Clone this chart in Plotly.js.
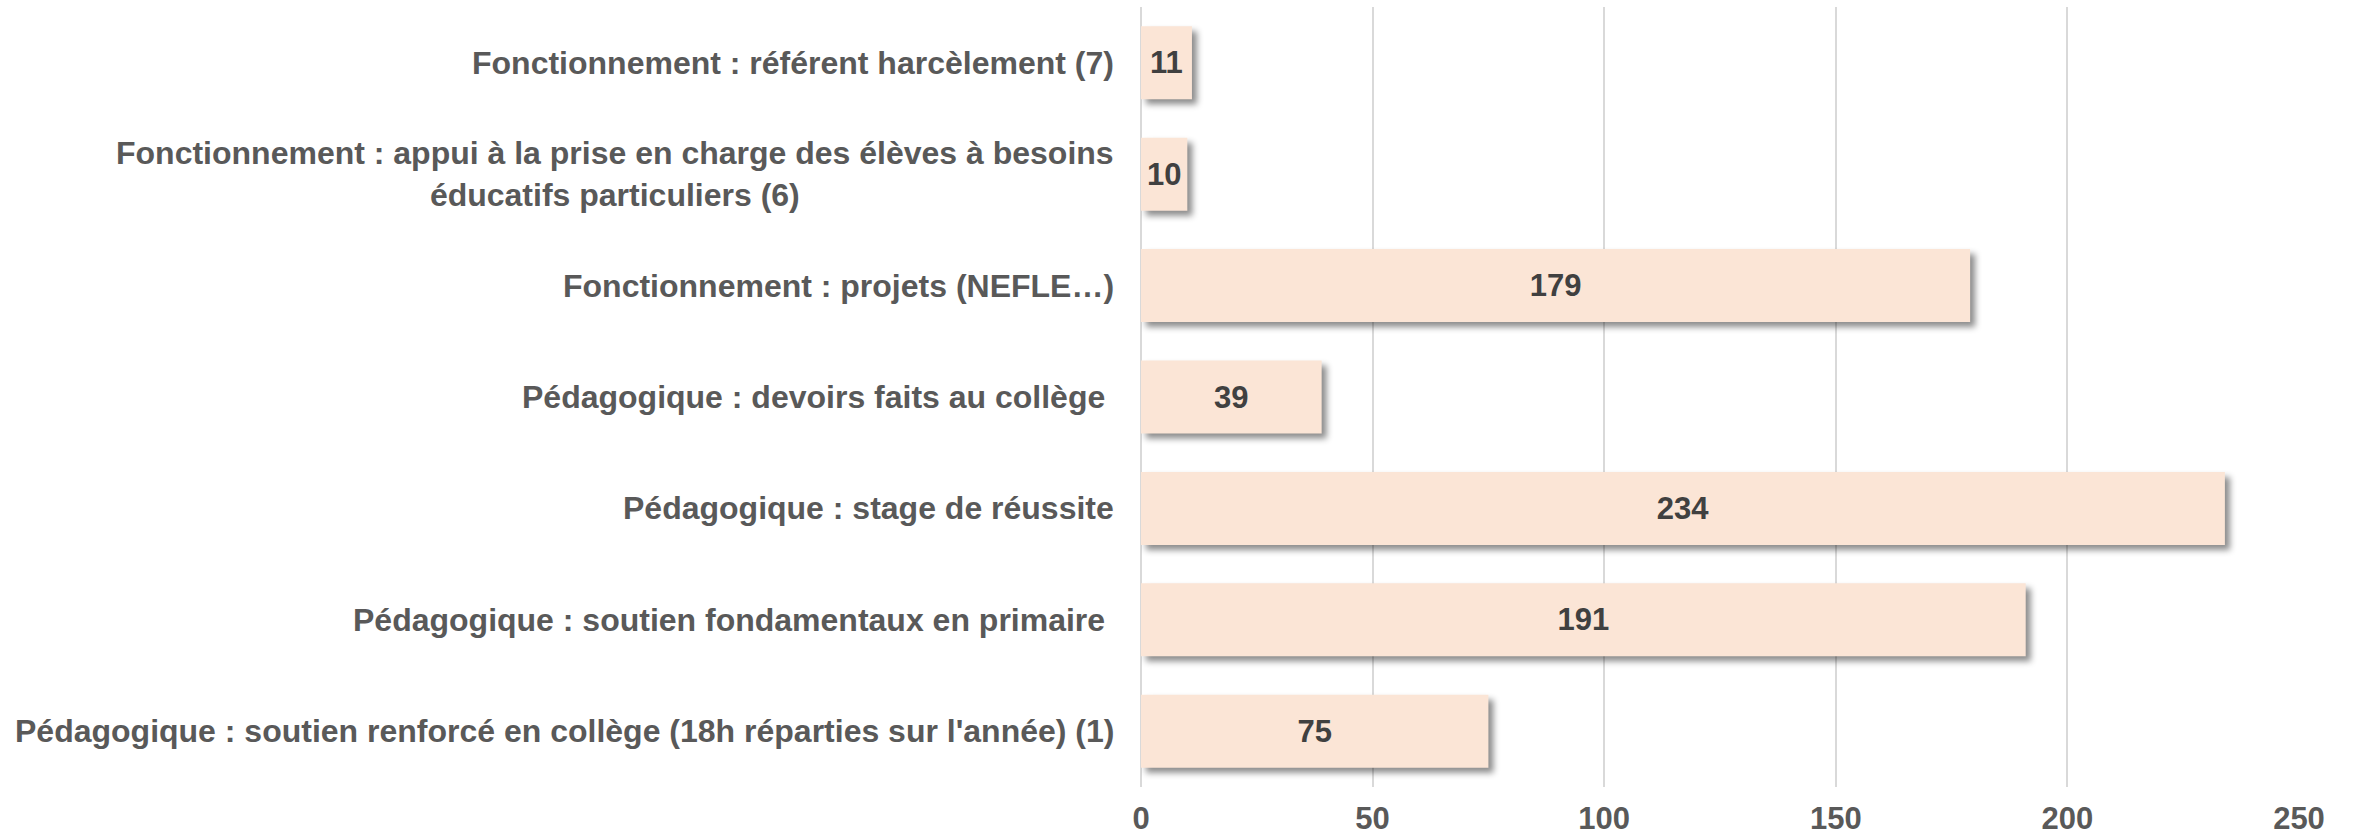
<!DOCTYPE html>
<html>
<head>
<meta charset="utf-8">
<script src="https://cdn.plot.ly/plotly-3.0.1.min.js"></script>
<style>
  html, body { margin: 0; padding: 0; background: #ffffff; }
  #chart { width: 2356px; height: 840px; }
  .barlayer .point path { filter: drop-shadow(5px 5px 3px rgba(0,0,0,0.45)); }
</style>
</head>
<body>
<div id="chart"></div>
<script>
// Categories, top to bottom
var categories = [
  "Fonctionnement : référent harcèlement (7)",
  "Fonctionnement : appui à la prise en charge des élèves à besoins<br>éducatifs particuliers (6)",
  "Fonctionnement : projets (NEFLE…)",
  "Pédagogique : devoirs faits au collège ",
  "Pédagogique : stage de réussite",
  "Pédagogique : soutien fondamentaux en primaire ",
  "Pédagogique : soutien renforcé en collège (18h réparties sur l'année) (1)"
];
var values = [11, 10, 179, 39, 234, 191, 75];
var xTicks = [0, 50, 100, 150, 200, 250];

var FONT = "'Liberation Sans', Arial, sans-serif";

var trace = {
  type: 'bar',
  orientation: 'h',
  y: categories,
  x: values,
  text: values.map(String),
  textposition: 'inside',
  insidetextanchor: 'middle',
  constraintext: 'none',
  textfont: {family: FONT, size: 31, color: '#404040', weight: 'bold'},
  marker: {color: '#FBE5D6', line: {width: 0}},
  hoverinfo: 'none',
  cliponaxis: false
};

var annotations = categories.map(function (c) {
  return {
    xref: 'paper', yref: 'y',
    x: 0, y: c,
    xanchor: 'right', yanchor: 'middle',
    xshift: -25,
    align: 'center',
    showarrow: false,
    text: c,
    font: {family: FONT, size: 32, color: '#595959', weight: 'bold'}
  };
});

var layout = {
  width: 2356,
  height: 840,
  margin: {l: 1141, r: 57, t: 7, b: 53},
  paper_bgcolor: '#ffffff',
  plot_bgcolor: '#ffffff',
  showlegend: false,
  bargap: 0.345,
  xaxis: {
    range: [0, 250],
    tickmode: 'array',
    tickvals: xTicks,
    ticktext: xTicks.map(String),
    showgrid: true,
    gridcolor: '#D9D9D9',
    gridwidth: 2,
    zeroline: true,
    zerolinecolor: '#D9D9D9',
    zerolinewidth: 2,
    showline: false,
    ticks: 'outside',
    ticklen: 4,
    tickcolor: 'rgba(0,0,0,0)',
    tickfont: {family: FONT, size: 31, color: '#595959', weight: 'bold'},
    fixedrange: true
  },
  yaxis: {
    type: 'category',
    autorange: 'reversed',
    showticklabels: false,
    showgrid: false,
    zeroline: false,
    showline: false,
    ticks: '',
    fixedrange: true
  },
  annotations: annotations
};

Plotly.newPlot('chart', [trace], layout, {displayModeBar: false, staticPlot: true});
</script>
</body>
</html>
